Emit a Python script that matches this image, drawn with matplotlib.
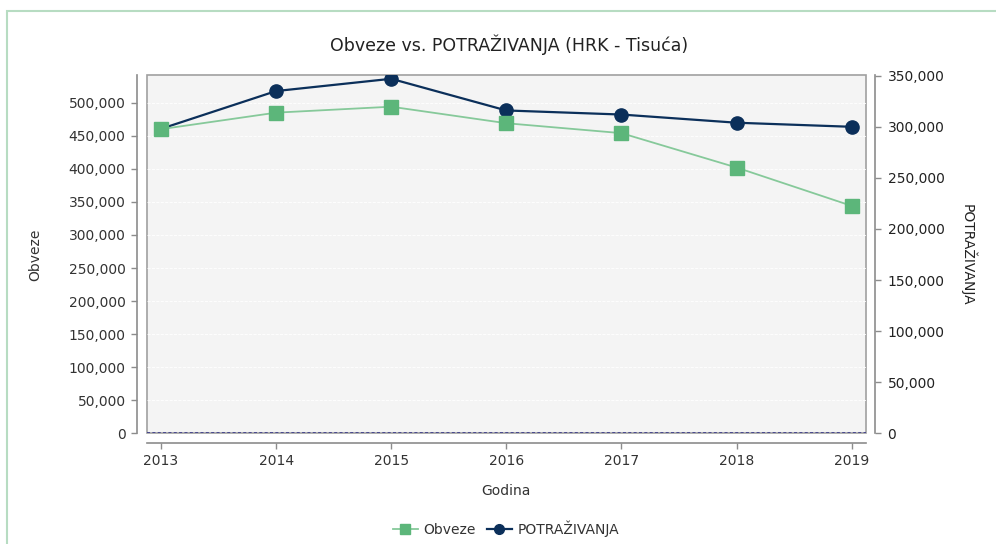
import matplotlib.pyplot as plt
import matplotlib.patches as mpatches
import matplotlib.transforms as mtransforms
from matplotlib.ticker import FuncFormatter, MultipleLocator
from matplotlib.lines import Line2D

plt.rcParams['font.family'] = ['DejaVu Sans']

# data
years = [2013, 2014, 2015, 2016, 2017, 2018, 2019]
obveze = [460000, 485000, 494000, 469000, 454000, 402000, 344000]
potrazivanja = [298000, 335000, 347000, 316000, 312000, 304000, 300000]
left_ticks = list(range(0, 500001, 50000))

green = "#5cb67a"
green_line = "#86c99a"
navy = "#0b2f5a"
axis_grey = "#8c8c8c"
text_col = "#333333"

fig = plt.figure(figsize=(9.96, 5.44), dpi=100)
ax = fig.add_axes([146.7 / 996, 110.7 / 544, 719 / 996, 358.6 / 544])
ax2 = ax.twinx()

# outer light green border
fig.patches.append(mpatches.Rectangle((7 / 996, -0.05), 1.0, (533 / 544) + 0.05,
                                      transform=fig.transFigure, fill=False,
                                      edgecolor="#b7dcc2", linewidth=1.5))

# ax2 (right axis) sits below so the green squares stay on top
ax.set_zorder(2)
ax2.set_zorder(1)
ax.patch.set_visible(False)
ax2.patch.set_visible(True)
ax2.set_facecolor("#f4f4f4")
ax2.patch.set_edgecolor("#a0a0a0")
ax2.patch.set_linewidth(1.2)

ax.set_xlim(2012.876, 2019.122)
ax.set_ylim(0, 542400)
ax2.set_ylim(0, 351000)

# faint white grid at left-axis ticks, drawn on the lower axes
grid_tf = mtransforms.blended_transform_factory(ax2.transAxes, ax.transData)
ax2.hlines(left_ticks[1:], 0, 1, transform=grid_tf, colors="white",
           linestyles="--", linewidth=0.6, zorder=0.5)

ax.axhline(1200, color="#2e2e86", linestyle="--", linewidth=1.1, dashes=(2, 1.5), zorder=3)

ax2.plot(years, potrazivanja, color=navy, linewidth=1.6, marker="o", markersize=9.5,
         markerfacecolor=navy, markeredgecolor=navy, zorder=5)
ax.plot(years, obveze, color=green_line, linewidth=1.3, marker="s", markersize=9.5,
        markerfacecolor=green, markeredgecolor=green, zorder=4)

ax.yaxis.set_major_locator(MultipleLocator(50000))
ax2.yaxis.set_major_locator(MultipleLocator(50000))
ax.set_xticks(years)

fmt = FuncFormatter(lambda v, p: f"{int(v):,}")
ax.yaxis.set_major_formatter(fmt)
ax2.yaxis.set_major_formatter(fmt)

for a in (ax, ax2):
    for s in a.spines.values():
        s.set_visible(False)

ax.spines["left"].set_visible(True)
ax.spines["left"].set_position(("outward", 7.2))
ax.spines["bottom"].set_visible(True)
ax.spines["bottom"].set_position(("outward", 7.2))
ax2.spines["right"].set_visible(True)
ax2.spines["right"].set_position(("outward", 6.7))
for s in (ax.spines["left"], ax.spines["bottom"], ax2.spines["right"]):
    s.set_color(axis_grey)
    s.set_linewidth(1.2)

ax.tick_params(axis="y", length=4, width=1, color=axis_grey, labelsize=10,
               labelcolor=text_col, pad=4)
ax.tick_params(axis="x", length=4, width=1, color=axis_grey, labelsize=10,
               labelcolor=text_col, pad=4)
ax2.tick_params(axis="y", length=4, width=1, color=axis_grey, labelsize=10,
                labelcolor="#222222", pad=5)

fig.text(509 / 996, 1 - 45 / 544, "Obveze vs. POTRAŽIVANJA (HRK - Tisuća)",
         ha="center", va="center", fontsize=12.5, color="#222222")
fig.text(35 / 996, 1 - 255 / 544, "Obveze", rotation=90, ha="center", va="center",
         fontsize=10, color=text_col)
fig.text(968 / 996, 1 - 255 / 544, "POTRAŽIVANJA", rotation=-90, ha="center",
         va="center", fontsize=10, color="#222222")
fig.text(506 / 996, 1 - 491 / 544, "Godina", ha="center", va="center",
         fontsize=10, color=text_col)

handles = [
    Line2D([0], [0], color=green_line, marker="s", markersize=7,
           markerfacecolor=green, markeredgecolor=green, linewidth=1.3),
    Line2D([0], [0], color=navy, marker="o", markersize=7,
           markerfacecolor=navy, markeredgecolor=navy, linewidth=1.6),
]
fig.legend(handles, ["Obveze", "POTRAŽIVANJA"], loc="center",
           bbox_to_anchor=(506 / 996, 1 - 529 / 544), ncol=2, frameon=False,
           fontsize=10, handlelength=1.8, handletextpad=0.4, columnspacing=0.8,
           labelcolor=text_col)

fig.savefig("out.png", dpi=100)
